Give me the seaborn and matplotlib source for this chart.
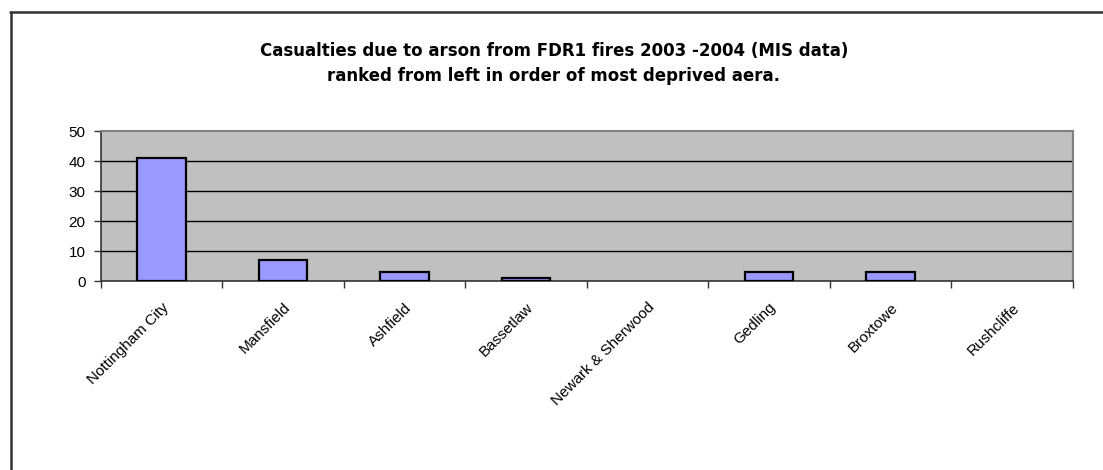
import matplotlib
matplotlib.use("Agg")
import matplotlib.pyplot as plt
import seaborn as sns
import pandas as pd
from matplotlib.lines import Line2D

categories = ["Nottingham City", "Mansfield", "Ashfield", "Bassetlaw",
              "Newark & Sherwood", "Gedling", "Broxtowe", "Rushcliffe"]
casualties = [41, 7, 3, 1, 0, 3, 3, 0]
y_ticks = [0, 10, 20, 30, 40, 50]
title = ("Casualties due to arson from FDR1 fires 2003 -2004 (MIS data)\n"
         "ranked from left in order of most deprived aera.")

sns.set_theme(style="white")
plt.rcParams['font.family'] = ['Liberation Sans', 'DejaVu Sans']
plt.rcParams['text.color'] = 'black'
plt.rcParams['xtick.color'] = 'black'
plt.rcParams['ytick.color'] = 'black'

df = pd.DataFrame({"area": categories, "casualties": casualties})

fig = plt.figure(figsize=(11.03, 4.70), dpi=100)
ax = fig.add_axes([0.0913, 0.4021, 0.8812, 0.3191])
ax.set_facecolor("#C0C0C0")

sns.barplot(data=df, x="area", y="casualties", color="#9999FF",
            edgecolor="black", linewidth=1.6, width=0.4, saturation=1,
            ax=ax, zorder=3)
# zero-height bars are not drawn in the reference
for p in ax.patches:
    if p.get_height() == 0:
        p.set_visible(False)

ax.set_xlim(-0.5, len(categories) - 0.5)
ax.set_ylim(0, 50)
ax.set_yticks(y_ticks)
ax.set_yticklabels([str(v) for v in y_ticks], fontsize=11)
for v in y_ticks[1:-1]:
    ax.axhline(v, color="black", linewidth=1.0, zorder=1)

ax.set_xlabel("")
ax.set_ylabel("")

ax.set_xticks(range(len(categories)))
ax.set_xticklabels(categories, rotation=45, ha="right", va="top",
                   rotation_mode="anchor", fontsize=11)
ax.tick_params(axis="x", which="major", length=0, pad=14)
ax.set_xticks([i - 0.5 for i in range(len(categories) + 1)], minor=True)
ax.tick_params(axis="x", which="minor", length=5, width=1, color="#333333",
               direction="out", bottom=True)
ax.tick_params(axis="y", length=5, width=1, color="#333333", left=True,
               direction="out", pad=6)

for side in ["left", "bottom"]:
    ax.spines[side].set_color("#333333")
    ax.spines[side].set_linewidth(1.2)
for side in ["top", "right"]:
    ax.spines[side].set_color("#808080")
    ax.spines[side].set_linewidth(1.5)

fig.text(0.502, 0.865, title, ha="center", va="center", fontsize=12,
         fontweight="bold", linespacing=1.5, family=["DejaVu Sans"],
         color="black")

fig.add_artist(Line2D([10 / 1103, 1.0], [1 - 11.5 / 470, 1 - 11.5 / 470],
                      transform=fig.transFigure, color="#333333", linewidth=1.8))
fig.add_artist(Line2D([10.5 / 1103, 10.5 / 1103], [0.0, 1 - 11.5 / 470],
                      transform=fig.transFigure, color="#333333", linewidth=1.8))

fig.savefig("out.png", dpi=100, facecolor="white")
